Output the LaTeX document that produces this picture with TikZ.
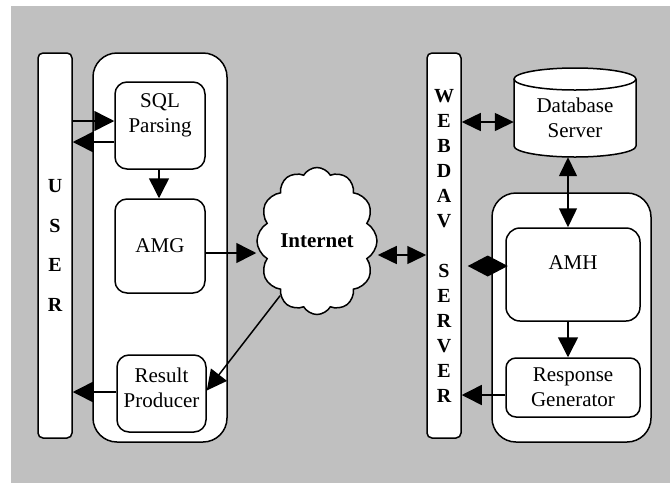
\documentclass[tikz,border=0pt]{standalone}
\usepackage{fontspec}
\setmainfont{Liberation Serif}
\usetikzlibrary{arrows.meta,shapes.symbols}
\definecolor{bggray}{HTML}{C0C0C0}
\begin{document}
\begin{tikzpicture}[x=1pt,y=-1pt,
  txt/.style={align=center, font=\fontsize{21}{25}\selectfont, inner sep=0pt},
  box/.style={draw, line width=1.5pt, fill=white, rounded corners=12pt, txt},
  bar/.style={draw, line width=1.5pt, fill=white, rounded corners=5pt, minimum width=34pt, minimum height=385pt, align=center, inner sep=0pt},
  group/.style={draw, line width=1.5pt, fill=white, rounded corners=24pt, inner sep=0pt},
  arr/.style={line width=1.5pt, -{Triangle[length=20pt,width=20pt]}},
  darr/.style={line width=1.5pt, {Triangle[length=19pt,width=18pt]}-{Triangle[length=19pt,width=18pt]}},
]
\useasboundingbox (0,0) rectangle (670,483);
\fill[bggray] (11,6) rectangle (670,483);

% left side
\node[bar, font=\bfseries\fontsize{20}{39.5}\selectfont] (USER) at (55,245.5) {U\\S\\E\\R};
\node[group, minimum width=134pt, minimum height=389pt] (L) at (160,247.5) {};
\node[box, minimum width=90pt, minimum height=87pt,
  label={[name=SQLt, txt, yshift=10pt]center:SQL\\Parsing}] (SQL) at (160,125.5) {};
\node[box, minimum width=90pt, minimum height=94pt] (AMG) at (160,246) {AMG};
\node[box, minimum width=89pt, minimum height=77pt,
  label={[name=RPt, txt, yshift=6pt]center:Result\\Producer}] (RP) at (161.5,393.5) {};

% cloud
\node[cloud, cloud puffs=12, cloud puff arc=120, cloud ignores aspect,
  minimum width=120pt, minimum height=147pt, draw, fill=white, line width=1.5pt,
  inner sep=0pt, font=\bfseries\fontsize{21}{25}\selectfont] (cloud) at (317,241) {Internet};

% right side
\node[bar, font=\bfseries\fontsize{20}{25}\selectfont] (WEBDAV) at (444,245.5)
  {W\\E\\B\\D\\A\\V\\[25pt]S\\E\\R\\V\\E\\R};

\path[draw, fill=white, line width=1.5pt] (514,79) -- (514,146)
  arc[start angle=180, end angle=360, x radius=61pt, y radius=11pt] -- (636,79);
\draw[fill=white, line width=1.5pt] (575,79) ellipse [x radius=61pt, y radius=11pt];
\node[txt, minimum width=122pt, minimum height=79pt] (DB) at (575,117.5) {Database\\Server};

\node[group, minimum width=159pt, minimum height=249pt] (R) at (571.5,317.5) {};
\node[box, rounded corners=14pt, minimum width=134pt, minimum height=93pt,
  label={[name=AMHt, txt, yshift=11.5pt]center:AMH}] (AMH) at (573,274.5) {};
\node[box, rounded corners=10pt, minimum width=134pt, minimum height=59pt] (RG) at (573,387.5) {Response\\Generator};

% connectors
\coordinate (p1) at ([yshift=4.5pt]SQL.west);
\draw[arr] (p1 -| USER.east) -- (p1);
\coordinate (p2) at ([yshift=-16.5pt]SQL.west);
\draw[arr] (p2) -- (p2 -| USER.east);
\draw[arr] ([xshift=-1pt]SQL.south) -- ([xshift=-1pt]AMG.north);
\coordinate (p3) at ([yshift=-7pt]AMG.east);
\draw[arr] (p3) -- (p3 -| cloud.west);
\draw[arr] (cloud.236) -- ([yshift=3pt]RP.east);
\coordinate (p4) at ([yshift=1.5pt]RP.west);
\draw[arr] (p4) -- (p4 -| USER.east);
\coordinate (p5) at ([yshift=-14pt]cloud.east);
\draw[darr] (p5) -- (p5 -| WEBDAV.west);
\coordinate (p6) at ([yshift=-4.5pt]DB.west);
\draw[darr] (p6 -| WEBDAV.east) -- (p6);
\coordinate (p7) at ([xshift=-7pt]DB.south);
\draw[darr] (p7) -- (p7 |- AMH.north);
\coordinate (p8) at ([yshift=8.5pt]AMH.west);
\path (p8 -| WEBDAV.east) ++(6,0) coordinate (dtip);
\draw[line width=1.5pt, -{Diamond[length=40pt,width=21pt]}] (p8) -- (dtip);
\draw[arr] (AMH.south -| p7) -- (RG.north -| p7);
\coordinate (p9) at ([yshift=-7.5pt]RG.west);
\draw[arr] (p9) -- (p9 -| WEBDAV.east);
\end{tikzpicture}
\end{document}
